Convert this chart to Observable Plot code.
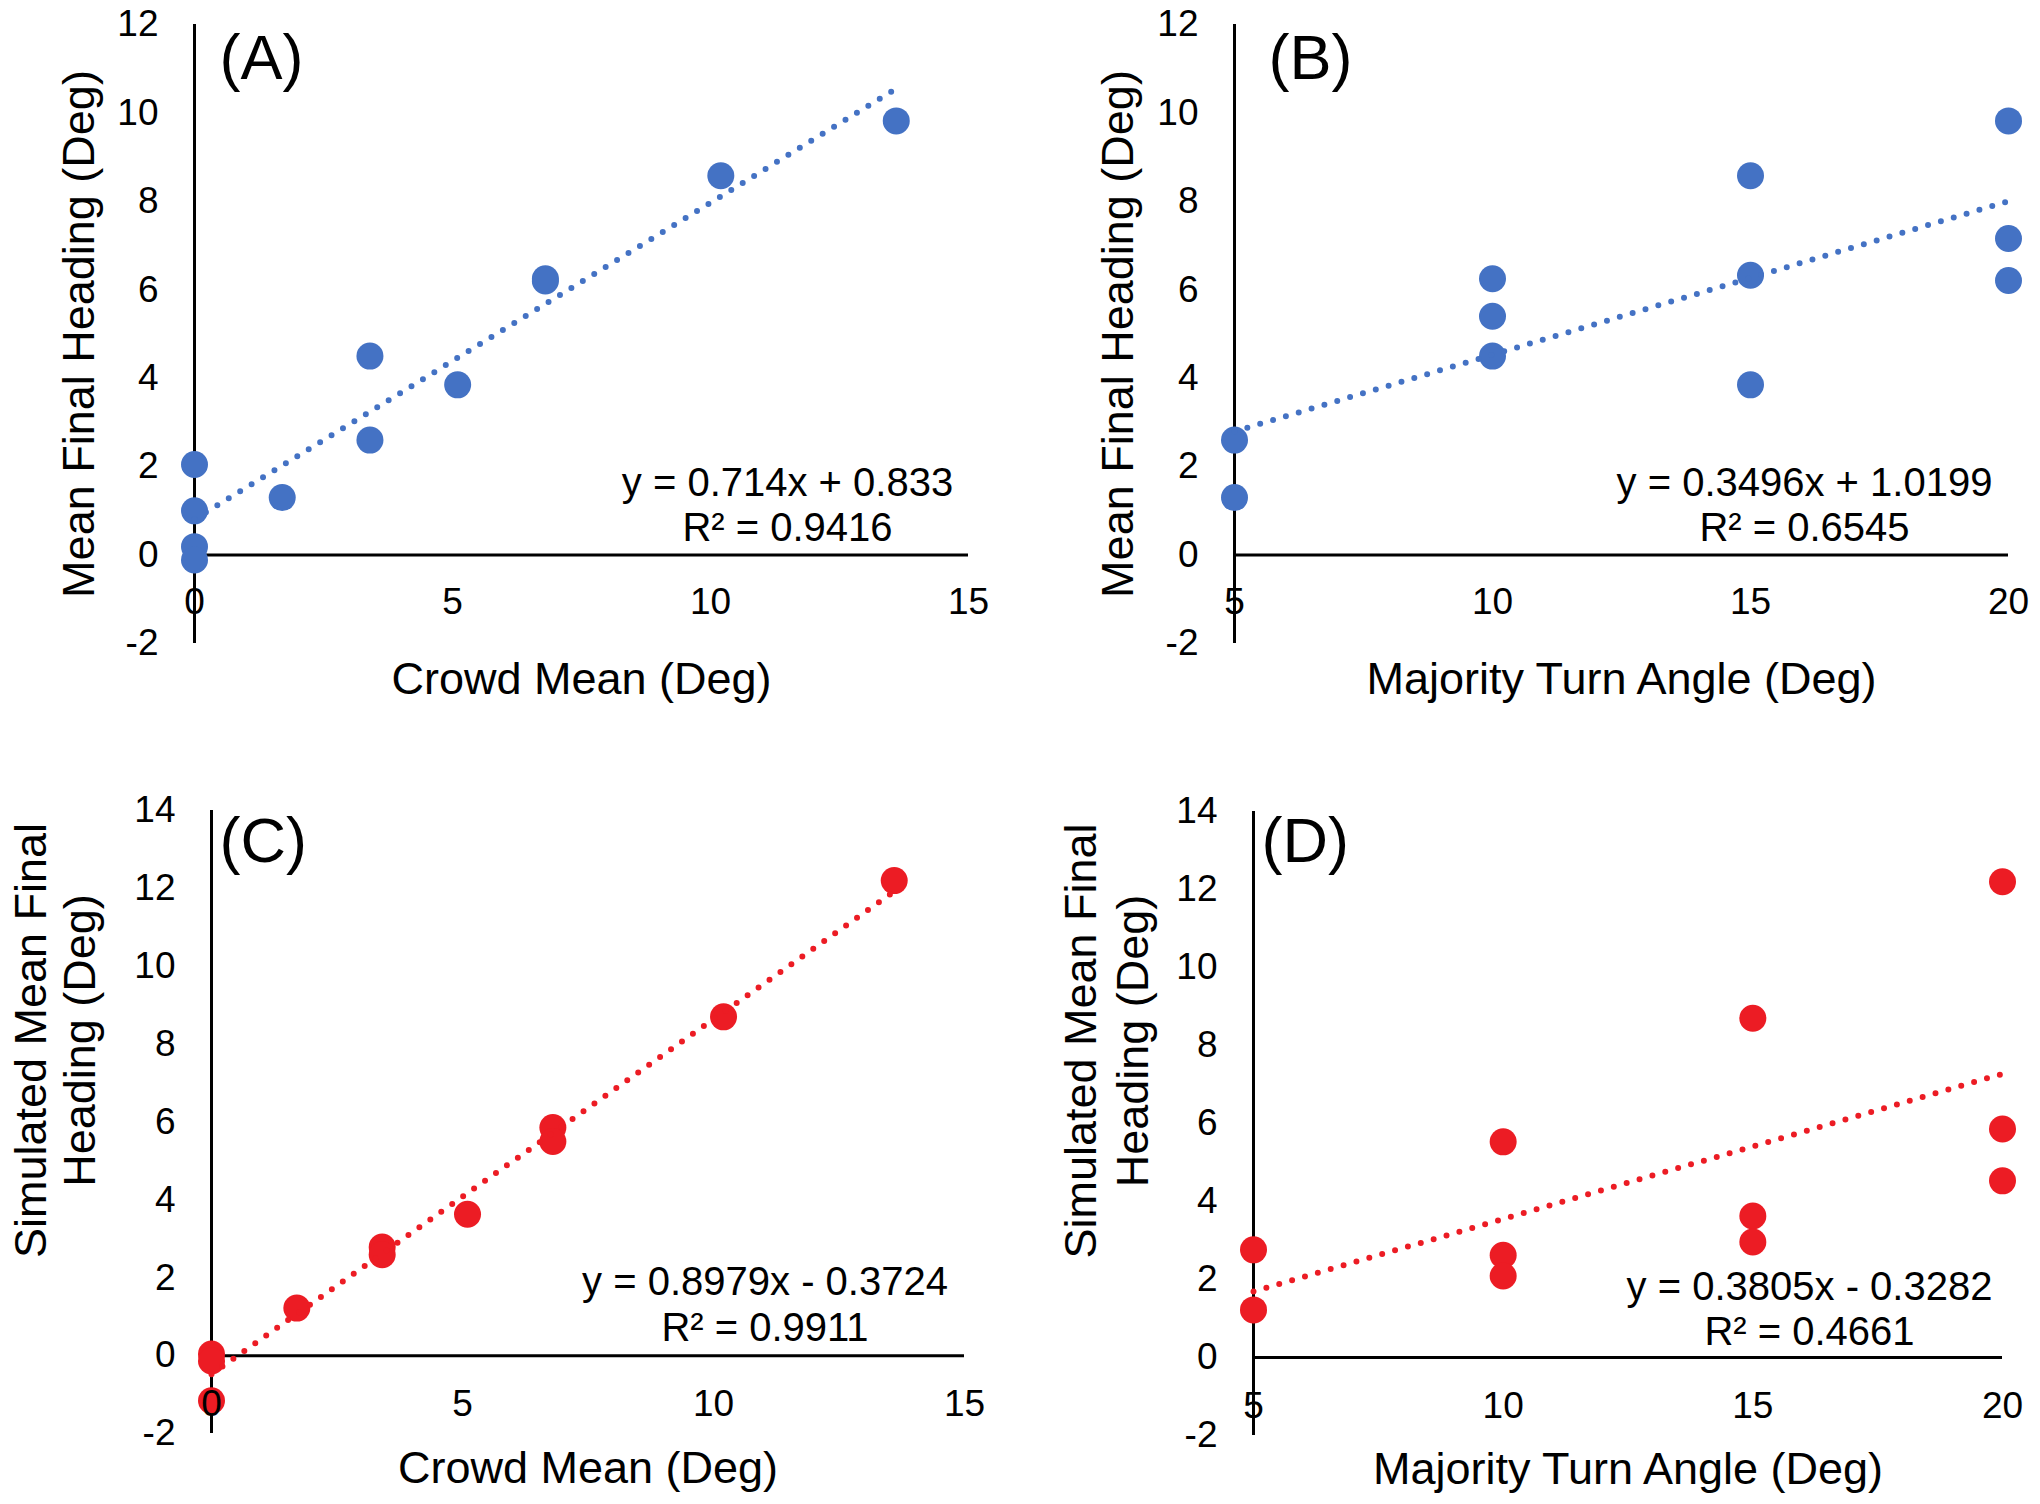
<!DOCTYPE html>
<html>
<head>
<meta charset="utf-8">
<script src="https://cdn.jsdelivr.net/npm/d3@7"></script>
<script src="https://cdn.jsdelivr.net/npm/@observablehq/plot@0.6"></script>
<style>
  html, body { margin: 0; padding: 0; background: #fff; }
  #chart { position: relative; width: 2040px; height: 1504px; overflow: hidden; background: #fff; }
  #chart > svg { position: absolute; }
</style>
</head>
<body>
<div id="chart"></div>
<script>
// ---------------- data ----------------
// (A) observed: crowd mean vs mean final heading
const crowdMeanA = [0, 0, 0, 0, 1.7, 3.4, 3.4, 5.1, 6.8, 6.8, 10.2, 13.6];
const headingA   = [2.05, 1.0, 0.19, -0.11, 1.3, 4.5, 2.6, 3.85, 6.25, 6.2, 8.58, 9.82];
// (B) observed: majority turn angle vs mean final heading
const turnAngleB = [5, 5, 10, 10, 10, 15, 15, 15, 20, 20, 20];
const headingB   = [2.6, 1.3, 6.25, 5.4, 4.5, 8.58, 6.33, 3.85, 9.82, 7.16, 6.21];
// (C) simulated: crowd mean vs simulated mean final heading
const crowdMeanC = [0, 0, 0, 1.7, 3.4, 3.4, 5.1, 6.8, 6.8, 10.2, 13.6];
const simHeadingC = [0.04, -0.14, -1.16, 1.22, 2.79, 2.59, 3.63, 5.86, 5.5, 8.7, 12.2];
// (D) simulated: majority turn angle vs simulated mean final heading
const turnAngleD = [5, 5, 10, 10, 10, 15, 15, 15, 20, 20, 20];
const simHeadingD = [2.76, 1.22, 5.53, 2.62, 2.09, 8.7, 3.63, 2.96, 12.2, 5.86, 4.53];

// tick values
const crowdTicks = [0, 5, 10, 15];
const angleTicks = [5, 10, 15, 20];
const headingTicksTop = [-2, 0, 2, 4, 6, 8, 10, 12];
const headingTicksBottom = [-2, 0, 2, 4, 6, 8, 10, 12, 14];

// texts
const panelLabels = ["(A)", "(B)", "(C)", "(D)"];
const xTitles = ["Crowd Mean (Deg)", "Majority Turn Angle (Deg)", "Crowd Mean (Deg)", "Majority Turn Angle (Deg)"];
const yTitles = ["Mean Final Heading (Deg)", "Mean Final Heading (Deg)",
                 "Simulated Mean Final\nHeading (Deg)", "Simulated Mean Final\nHeading (Deg)"];
const equations = ["y = 0.714x + 0.833", "y = 0.3496x + 1.0199", "y = 0.8979x - 0.3724", "y = 0.3805x - 0.3282"];
const rSquared = ["R² = 0.9416", "R² = 0.6545", "R² = 0.9911", "R² = 0.4661"];

// ---------------- style / layout ----------------
const FONT = '"Liberation Sans", Arial, Helvetica, sans-serif';
const BLUE = "#4472C4";
const RED = "#EC1C24";

const panels = [
  {xs: crowdMeanA, ys: headingA, color: BLUE, xDomain: [0, 15], yDomain: [-2, 12],
   xTicks: crowdTicks, yTicks: headingTicksTop,
   left: 0, top: 0, width: 1020, height: 745, mL: 194, mR: 52, mT: 24, mB: 102,
   xTickDy: 47, labelDx: 25, labelDy: 34, xTitleDy: 35.6,
   yTitleDx: -116, yTitleDy: 0, yTitleLH: 1.1,
   eqDx: 593, eqDy: 479.7, eqLH: 1.125},
  {xs: turnAngleB, ys: headingB, color: BLUE, xDomain: [5, 20], yDomain: [-2, 12],
   xTicks: angleTicks, yTicks: headingTicksTop,
   left: 1020, top: 0, width: 1020, height: 745, mL: 214, mR: 32, mT: 24, mB: 102,
   xTickDy: 47, labelDx: 34, labelDy: 34, xTitleDy: 35.6,
   yTitleDx: -117, yTitleDy: 0, yTitleLH: 1.1,
   eqDx: 570, eqDy: 479.7, eqLH: 1.125},
  {xs: crowdMeanC, ys: simHeadingC, color: RED, xDomain: [0, 15], yDomain: [-2, 14],
   xTicks: crowdTicks, yTicks: headingTicksBottom,
   left: 0, top: 760, width: 1020, height: 744, mL: 211, mR: 56, mT: 50, mB: 71,
   xTickDy: 49, labelDx: 8, labelDy: 31, xTitleDy: 34.6,
   yTitleDx: -157, yTitleDy: -81.5, yTitleLH: 1.11,
   eqDx: 553.5, eqDy: 493.2, eqLH: 1.15},
  {xs: turnAngleD, ys: simHeadingD, color: RED, xDomain: [5, 20], yDomain: [-2, 14],
   xTicks: angleTicks, yTicks: headingTicksBottom,
   left: 1020, top: 760, width: 1020, height: 744, mL: 233, mR: 38, mT: 51, mB: 69,
   xTickDy: 49, labelDx: 8, labelDy: 30, xTitleDy: 33.6,
   yTitleDx: -148, yTitleDy: -82.5, yTitleLH: 1.15,
   eqDx: 556, eqDy: 496.7, eqLH: 1.125}
];

const chart = document.getElementById("chart");
const TXT = {fill: "#000", lineAnchor: "middle"};

panels.forEach((p, i) => {
  const data = p.xs.map((x, j) => ({x, y: p.ys[j]}));
  const [x0, x1] = p.xDomain;
  const [y0, y1] = p.yDomain;
  const svg = Plot.plot({
    width: p.width,
    height: p.height,
    marginLeft: p.mL, marginRight: p.mR, marginTop: p.mT, marginBottom: p.mB,
    style: {fontFamily: FONT, fontSize: "37px", color: "#000", background: "transparent", overflow: "visible"},
    x: {domain: p.xDomain, axis: null},
    y: {domain: p.yDomain, ticks: p.yTicks, tickSize: 0, tickPadding: 36, tickFormat: d => String(d), label: null},
    marks: [
      // axes lines (Excel style: y axis at x-min, x axis at y = 0)
      Plot.ruleX([x0], {y1: y0, y2: y1, stroke: "#000", strokeWidth: 3}),
      Plot.ruleY([0], {x1: x0, x2: x1, stroke: "#000", strokeWidth: 3}),
      // points
      Plot.dot(data, {x: "x", y: "y", r: 13.5, fill: p.color, stroke: "none"}),
      // dotted linear trendline
      Plot.linearRegressionY(data, {x: "x", y: "y", ci: 0, stroke: p.color, strokeWidth: 6,
        strokeDasharray: "0 13.4", strokeLinecap: "round"}),
      // x tick labels, just below the y = 0 line
      Plot.text(p.xTicks, {...TXT, x: d => d, y: 0, dy: p.xTickDy, text: d => String(d), fontSize: 37, textAnchor: "middle"}),
      // panel label
      Plot.text([panelLabels[i]], {...TXT, frameAnchor: "top-left", dx: p.labelDx, dy: p.labelDy, text: d => d,
        textAnchor: "start", fontSize: 63}),
      // x title
      Plot.text([xTitles[i]], {...TXT, frameAnchor: "bottom", dy: p.xTitleDy, text: d => d, fontSize: 45, textAnchor: "middle"}),
      // y title
      Plot.text([yTitles[i]], {...TXT, frameAnchor: "left", dx: p.yTitleDx, dy: p.yTitleDy, rotate: -90, text: d => d,
        fontSize: 45, lineHeight: p.yTitleLH, textAnchor: "middle"}),
      // regression equation
      Plot.text([equations[i] + "\n" + rSquared[i]], {...TXT, frameAnchor: "top-left", dx: p.eqDx, dy: p.eqDy, text: d => d,
        fontSize: 40, lineHeight: p.eqLH, textAnchor: "middle"})
    ]
  });
  svg.style.left = p.left + "px";
  svg.style.top = p.top + "px";
  chart.appendChild(svg);
});
</script>
</body>
</html>
